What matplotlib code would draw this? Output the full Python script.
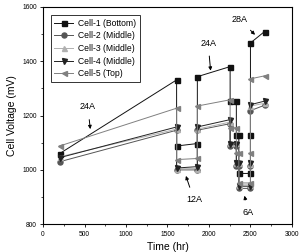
import matplotlib
matplotlib.use("Agg")
import matplotlib.pyplot as plt
from matplotlib.ticker import MultipleLocator

plt.rcParams['font.family'] = ['Liberation Sans', 'DejaVu Sans']

time_hr = [200, 1610, 1610, 1860, 1860, 2255, 2255, 2330, 2330, 2360, 2360, 2500, 2500, 2500, 2670]
cell1 = [1060, 1331, 1088, 1097, 1343, 1380, 1253, 1253, 1128, 1128, 987, 987, 1128, 1467, 1509]
cell2 = [1030, 1146, 1000, 1000, 1146, 1170, 1088, 1088, 1016, 1016, 932, 932, 1015, 1218, 1238]
cell3 = [1048, 1150, 1004, 1005, 1150, 1176, 1100, 1100, 1025, 1025, 945, 945, 1022, 1235, 1245]
cell4 = [1045, 1158, 1007, 1012, 1158, 1185, 1095, 1095, 1025, 1025, 940, 940, 1025, 1240, 1253]
cell5 = [1088, 1227, 1038, 1042, 1235, 1258, 1155, 1155, 1062, 1062, 952, 952, 1062, 1335, 1346]

series = [
    ("Cell-1 (Bottom)", cell1, 's', '#111111'),
    ("Cell-2 (Middle)", cell2, 'o', '#555555'),
    ("Cell-3 (Middle)", cell3, '^', '#b0b0b0'),
    ("Cell-4 (Middle)", cell4, 'v', '#222222'),
    ("Cell-5 (Top)", cell5, '<', '#808080'),
]

annotations = [
    ("24A", (570, 1150), (540, 1232)),
    ("12A", (1722, 978), (1820, 890)),
    ("24A", (2020, 1365), (1990, 1466)),
    ("6A", (2428, 905), (2475, 843)),
    ("28A", (2555, 1497), (2365, 1555)),
]

fig = plt.figure(figsize=(3.01, 2.52), dpi=100)
ax = fig.add_axes([0.1429, 0.110, 0.827, 0.863])

for label, vals, mk, col in series:
    ax.plot(time_hr, vals, marker=mk, color=col, markerfacecolor=col,
            markeredgecolor=col, markersize=3.6, linewidth=0.7, label=label)

for txt, tip, pos in annotations:
    ax.annotate(txt, xy=tip, xytext=pos, fontsize=6.5, ha='center', va='center',
                arrowprops=dict(arrowstyle='-|>', color='black', lw=0.7,
                                mutation_scale=5, shrinkA=4, shrinkB=0))

ax.set_xlim(0, 3000)
ax.set_ylim(800, 1600)
ax.xaxis.set_major_locator(MultipleLocator(500))
ax.xaxis.set_minor_locator(MultipleLocator(250))
ax.yaxis.set_major_locator(MultipleLocator(200))
ax.yaxis.set_minor_locator(MultipleLocator(100))
ax.tick_params(which='major', length=2.5, width=0.6, labelsize=4.8, pad=2)
ax.tick_params(which='minor', length=1.5, width=0.5)
for sp in ax.spines.values():
    sp.set_linewidth(0.8)

ax.set_ylabel("Cell Voltage (mV)", fontsize=7.5, labelpad=4)
ax.set_xlabel("Time (hr)", fontsize=7.5, labelpad=3.5)

leg = ax.legend(loc='upper left', bbox_to_anchor=(0.02, 0.975), fontsize=6.2,
                frameon=True, fancybox=False, edgecolor='black',
                handlelength=2.2, handletextpad=0.5, borderpad=0.45,
                labelspacing=0.42, borderaxespad=0.3)
leg.get_frame().set_linewidth(0.7)

fig.savefig("out.png", dpi=100)
